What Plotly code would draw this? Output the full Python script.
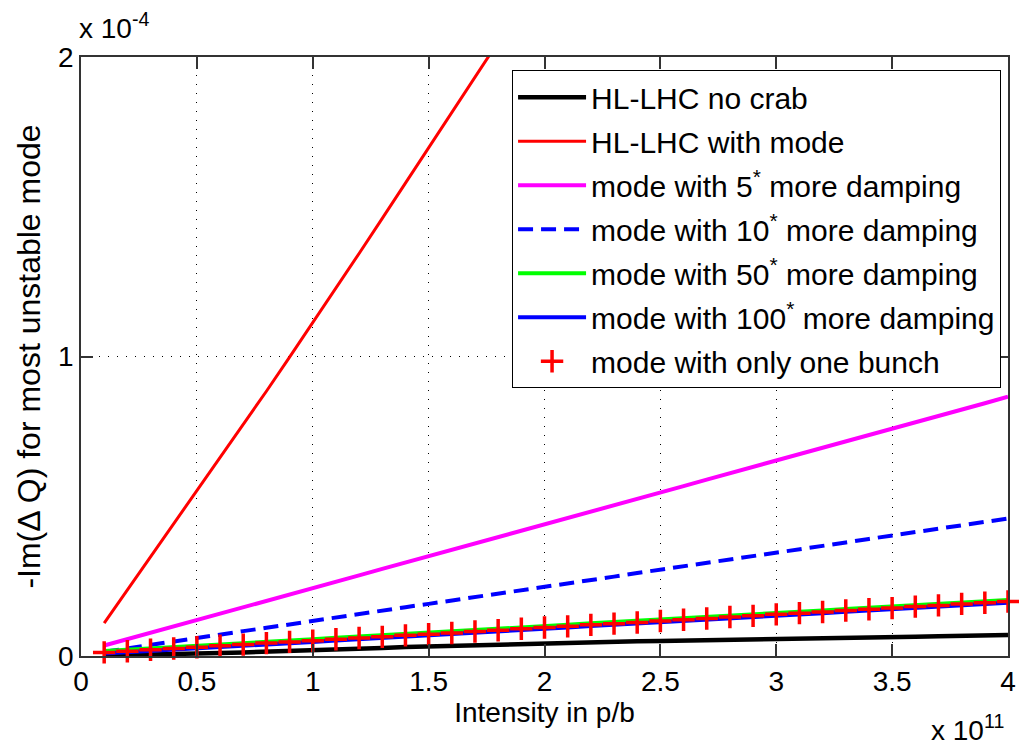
import plotly.graph_objects as go

# Intensity (x 1e11 p/b)
intensity = [0.1, 0.2, 0.3, 0.4, 0.5, 0.6, 0.7, 0.8, 0.9, 1.0,
             1.1, 1.2, 1.3, 1.4, 1.5, 1.6, 1.7, 1.8, 1.9, 2.0,
             2.1, 2.2, 2.3, 2.4, 2.5, 2.6, 2.7, 2.8, 2.9, 3.0,
             3.1, 3.2, 3.3, 3.4, 3.5, 3.6, 3.7, 3.8, 3.9, 4.0]

# -Im(dQ) values (x 1e-4)
no_crab = [0.002, 0.003, 0.005, 0.006, 0.008, 0.010, 0.012, 0.014, 0.016, 0.018,
           0.021, 0.024, 0.027, 0.030, 0.032, 0.035, 0.037, 0.040, 0.042, 0.044,
           0.045, 0.047, 0.048, 0.049, 0.050, 0.051, 0.053, 0.054, 0.055, 0.056,
           0.057, 0.059, 0.060, 0.062, 0.063, 0.064, 0.066, 0.067, 0.069, 0.070]
with_mode = [0.110, 0.220, 0.330, 0.440, 0.550, 0.661, 0.772, 0.884, 0.998, 1.112,
             1.228, 1.344, 1.461, 1.578, 1.695, 1.812, 1.930, 2.048, 2.166, 2.284,
             2.402, 2.520, 2.638, 2.756, 2.874, 2.992, 3.110, 3.228, 3.346, 3.464,
             3.582, 3.700, 3.818, 3.936, 4.054, 4.172, 4.290, 4.408, 4.526, 4.644]
damp5 = [0.035, 0.056, 0.078, 0.099, 0.120, 0.142, 0.163, 0.184, 0.205, 0.227,
         0.248, 0.269, 0.291, 0.312, 0.333, 0.354, 0.376, 0.397, 0.418, 0.440,
         0.461, 0.482, 0.503, 0.525, 0.546, 0.567, 0.589, 0.610, 0.631, 0.653,
         0.674, 0.695, 0.716, 0.738, 0.759, 0.780, 0.802, 0.823, 0.844, 0.866]
damp10 = [0.014, 0.026, 0.037, 0.049, 0.060, 0.071, 0.083, 0.094, 0.106, 0.117,
          0.128, 0.140, 0.151, 0.163, 0.174, 0.185, 0.197, 0.208, 0.220, 0.231,
          0.242, 0.254, 0.265, 0.277, 0.288, 0.299, 0.311, 0.322, 0.334, 0.345,
          0.356, 0.368, 0.379, 0.391, 0.402, 0.413, 0.425, 0.436, 0.448, 0.459]
damp50 = [0.017, 0.021, 0.026, 0.030, 0.034, 0.039, 0.043, 0.048, 0.052, 0.056,
          0.061, 0.065, 0.069, 0.074, 0.078, 0.082, 0.087, 0.091, 0.096, 0.100,
          0.104, 0.109, 0.113, 0.117, 0.122, 0.126, 0.130, 0.135, 0.139, 0.144,
          0.148, 0.152, 0.157, 0.161, 0.165, 0.170, 0.174, 0.179, 0.183, 0.187]
damp100 = [0.008, 0.012, 0.017, 0.021, 0.025, 0.030, 0.034, 0.039, 0.043, 0.047,
           0.052, 0.056, 0.060, 0.065, 0.069, 0.073, 0.078, 0.082, 0.087, 0.091,
           0.095, 0.100, 0.104, 0.108, 0.113, 0.117, 0.121, 0.126, 0.130, 0.135,
           0.139, 0.143, 0.148, 0.152, 0.156, 0.161, 0.165, 0.170, 0.174, 0.178]
one_bunch = [0.012, 0.016, 0.021, 0.025, 0.029, 0.034, 0.038, 0.043, 0.047, 0.051,
             0.056, 0.060, 0.064, 0.069, 0.073, 0.077, 0.082, 0.086, 0.091, 0.095,
             0.099, 0.104, 0.108, 0.112, 0.117, 0.121, 0.125, 0.130, 0.134, 0.139,
             0.143, 0.147, 0.152, 0.156, 0.160, 0.165, 0.169, 0.174, 0.178, 0.182]

x_ticks = [0, 0.5, 1, 1.5, 2, 2.5, 3, 3.5, 4]
x_tick_text = ["0", "0.5", "1", "1.5", "2", "2.5", "3", "3.5", "4"]
y_ticks = [0, 1, 2]
y_tick_text = ["0", "1", "2"]

FONT = "Liberation Sans, Arial, sans-serif"

fig = go.Figure()
fig.add_trace(go.Scatter(x=intensity, y=no_crab, mode="lines", name="HL-LHC no crab",
                         legendgroup="g1", line=dict(color="#000000", width=4.5)))
fig.add_trace(go.Scatter(x=intensity, y=with_mode, mode="lines", name="HL-LHC with mode",
                         legendgroup="g2", line=dict(color="#ff0000", width=3)))
fig.add_trace(go.Scatter(x=intensity, y=damp5, mode="lines", name="mode with 5<sup>*</sup> more damping",
                         legendgroup="g3", line=dict(color="#ff00ff", width=4)))
fig.add_trace(go.Scatter(x=intensity, y=damp10, mode="lines", name="mode with 10<sup>*</sup> more damping",
                         legendgroup="g4", line=dict(color="#0000ff", width=4, dash="15px,8px")))
fig.add_trace(go.Scatter(x=intensity, y=damp50, mode="lines", name="mode with 50<sup>*</sup> more damping",
                         legendgroup="g5", line=dict(color="#00ff00", width=4)))
fig.add_trace(go.Scatter(x=intensity, y=damp100, mode="lines", name="mode with 100<sup>*</sup> more damping",
                         legendgroup="g6", line=dict(color="#0000ff", width=4)))
fig.add_trace(go.Scatter(x=intensity, y=one_bunch, mode="markers", name="mode with only one bunch",
                         legendgroup="g7", cliponaxis=False,
                         marker=dict(symbol="cross-thin", size=16, color="#ff0000",
                                     line=dict(color="#ff0000", width=3.5))))

axis_common = dict(
    automargin=False,
    showline=True, linecolor="#333333", linewidth=1.5, mirror="ticks",
    ticks="inside", ticklen=12, tickwidth=1.5, tickcolor="#333333",
    showgrid=True, gridcolor="#000000", gridwidth=1, griddash="1px,8px",
    zeroline=False, tickfont=dict(family=FONT, size=28, color="#000000"),
)

fig.update_layout(
    width=1019, height=748,
    margin=dict(l=81, r=11, t=57, b=92),
    paper_bgcolor="white", plot_bgcolor="white",
    font=dict(family=FONT, color="#000000"),
    xaxis=dict(range=[0, 4], tickmode="array", tickvals=x_ticks, ticktext=x_tick_text,
               title=dict(text="Intensity in p/b", font=dict(family=FONT, size=28), standoff=0),
               **axis_common),
    yaxis=dict(range=[0, 2], tickmode="array", tickvals=y_ticks, ticktext=y_tick_text,
               title=dict(text="-Im(Δ Q) for most unstable mode", font=dict(family=FONT, size=32), standoff=8),
               **axis_common),
    legend=dict(x=0.465, y=0.978, xanchor="left", yanchor="top",
                bgcolor="white", bordercolor="#000000", borderwidth=1,
                font=dict(family=FONT, size=30, color="#000000"),
                itemwidth=68, tracegroupgap=2),
    showlegend=True,
    annotations=[
        dict(text="x 10<sup>-4</sup>", xref="paper", yref="paper", x=-0.004, y=1.052,
             xanchor="left", yanchor="middle", showarrow=False,
             font=dict(family=FONT, size=28, color="#000000")),
        dict(text="x 10<sup>11</sup>", xref="paper", yref="paper", x=0.998, y=-0.12,
             xanchor="right", yanchor="middle", showarrow=False,
             font=dict(family=FONT, size=28, color="#000000")),
    ],
)

fig.write_html("out.html")
